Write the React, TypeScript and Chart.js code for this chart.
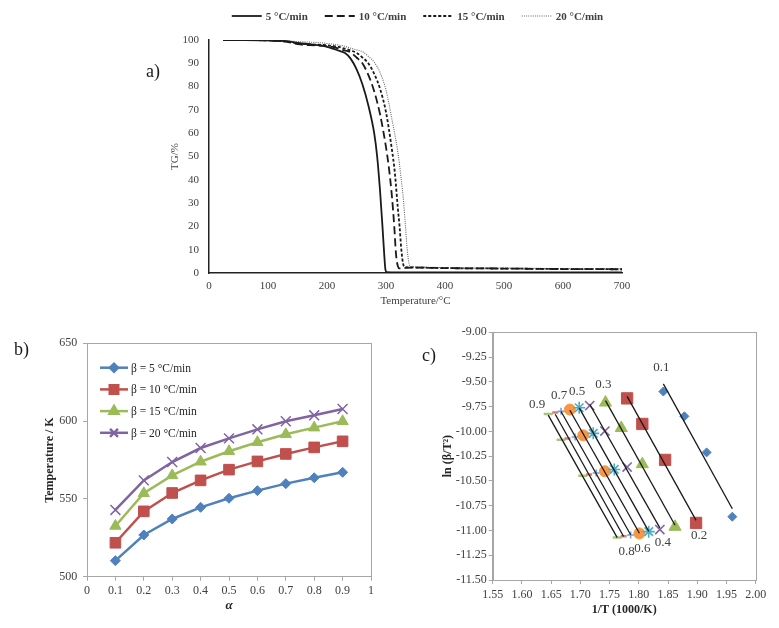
import React, { useEffect, useRef } from 'react';
import { Chart, registerables } from 'chart.js';
import { drawPoint } from 'chart.js/helpers';

Chart.register(...registerables);

const FONT = '"Liberation Serif", "Times New Roman", serif';

// ---- (a) TG curves: temperature (°C) and remaining mass (%) ----
const tempA5 = [24, 60, 100, 130, 150, 170, 190, 200, 210, 220, 230, 240, 250, 260, 270, 280, 285, 290, 294, 297, 299, 301, 320, 400, 500, 600, 700];
const tgA5 = [100, 100, 99.8, 99.5, 98.8, 98.2, 97.6, 97.1, 96.3, 95.4, 94.5, 92, 87.5, 81, 72, 60, 50, 35, 20, 8, 1.5, 0.4, 0.3, 0.3, 0.3, 0.3, 0.3];
const tempA10 = [24, 60, 100, 130, 150, 170, 190, 200, 210, 220, 230, 240, 250, 260, 270, 280, 290, 300, 305, 310, 314, 317, 320, 323, 330, 350, 400, 500, 600, 700];
const tgA10 = [100, 100, 99.8, 99.3, 98.2, 97.8, 97.6, 97.4, 97.0, 96.3, 95.5, 94.7, 92.5, 90, 85, 78, 68, 54, 45, 33, 20, 8, 3, 2, 2.2, 2.3, 2.1, 1.9, 1.7, 1.6];
const tempA15 = [24, 60, 100, 130, 150, 170, 190, 200, 210, 220, 230, 240, 250, 260, 270, 280, 290, 300, 310, 315, 320, 323, 326, 329, 332, 340, 360, 400, 500, 600, 700];
const tgA15 = [100, 100, 99.8, 99.4, 98.6, 98.1, 97.9, 97.7, 97.4, 97.0, 96.3, 95.5, 94.5, 92.5, 90, 85.5, 79, 69, 53, 43, 28, 20, 10, 4, 2.5, 2.4, 2.3, 2.1, 1.9, 1.7, 1.6];
const tempA20 = [24, 60, 100, 130, 150, 170, 190, 200, 210, 220, 230, 240, 250, 260, 270, 280, 290, 300, 310, 320, 325, 330, 333, 336, 339, 342, 350, 400, 500, 600, 700];
const tgA20 = [100, 100, 99.9, 99.7, 99.3, 99.1, 98.8, 98.5, 98.2, 97.8, 97.3, 96.5, 95.8, 95, 93, 90.5, 86, 78.5, 66, 52, 42, 30, 20, 10, 4, 2.8, 2.6, 2.3, 2.1, 1.9, 1.8];
const rateNamesA = ['5 °C/min', '10 °C/min', '15 °C/min', '20 °C/min'];

// ---- (b) temperature (K) at each conversion ----
const alpha = [0.1, 0.2, 0.3, 0.4, 0.5, 0.6, 0.7, 0.8, 0.9];
const tempB5 = [510.3, 526.8, 537.1, 544.6, 550.4, 555.3, 559.8, 563.6, 567.1];
const tempB10 = [521.8, 542.0, 553.8, 561.9, 568.8, 574.1, 578.9, 583.1, 587.0];
const tempB15 = [532.6, 553.6, 565.1, 573.9, 580.6, 586.4, 591.5, 595.8, 599.9];
const tempB20 = [542.9, 561.9, 573.7, 582.7, 588.9, 594.7, 599.9, 603.7, 607.8];
const rateNamesB = ['β = 5 °C/min', 'β = 10 °C/min', 'β = 15 °C/min', 'β = 20 °C/min'];

// ---- (c) 1000/T and ln(β/T²) per conversion (β = 5, 10, 15, 20) ----
const conversionNames = ['0.1', '0.2', '0.3', '0.4', '0.5', '0.6', '0.7', '0.8', '0.9'];
const inverseT = [
  [1.960, 1.916, 1.878, 1.842],
  [1.898, 1.845, 1.806, 1.780],
  [1.862, 1.806, 1.770, 1.743],
  [1.836, 1.780, 1.742, 1.716],
  [1.817, 1.758, 1.722, 1.698],
  [1.801, 1.742, 1.705, 1.682],
  [1.786, 1.727, 1.691, 1.667],
  [1.774, 1.715, 1.678, 1.657],
  [1.763, 1.704, 1.667, 1.645],
];
const lnRate = [
  [-10.861, -10.212, -9.848, -9.598],
  [-10.924, -10.288, -9.925, -9.667],
  [-10.963, -10.331, -9.966, -9.709],
  [-10.991, -10.360, -9.997, -9.740],
  [-11.012, -10.384, -10.020, -9.761],
  [-11.030, -10.403, -10.040, -9.780],
  [-11.046, -10.420, -10.057, -9.798],
  [-11.059, -10.434, -10.071, -9.810],
  [-11.072, -10.447, -10.085, -9.824],
];

const seriesColors = ['#4F81BD', '#C0504D', '#9BBB59', '#8064A2', '#4BACC6', '#F79646', '#7B9FCF', '#D67B7A', '#A8C77A'];
const markerStyles = ['rectRot', 'rect', 'triangle', 'crossRot', 'star', 'circle', 'cross', 'line', 'line'];
const markerRadii = [4.5, 8, 7, 6.5, 6, 5.5, 3.5, 3, 4.5];

const pairs = (xs: number[], ys: number[]) => xs.map((x, i) => ({ x, y: ys[i] }));

// least-squares trend line spanning the data range
function trendEnds(xs: number[], ys: number[]) {
  const n = xs.length;
  const mx = xs.reduce((a, b) => a + b, 0) / n;
  const my = ys.reduce((a, b) => a + b, 0) / n;
  let sxy = 0, sxx = 0;
  xs.forEach((x, i) => { sxy += (x - mx) * (ys[i] - my); sxx += (x - mx) * (x - mx); });
  const k = sxy / sxx;
  const b = my - k * mx;
  const lo = Math.min(...xs), hi = Math.max(...xs);
  return [{ x: lo, y: k * lo + b }, { x: hi, y: k * hi + b }];
}

const framePlugin = {
  id: 'frame',
  beforeDatasetsDraw(chart: any) {
    const { ctx, chartArea: a } = chart;
    ctx.save();
    ctx.strokeStyle = '#A6A6A6';
    ctx.lineWidth = 1;
    ctx.strokeRect(Math.round(a.left) + 0.5, Math.round(a.top) + 0.5, Math.round(a.right - a.left), Math.round(a.bottom - a.top));
    ctx.restore();
  },
};

const tgLegendPlugin = {
  id: 'tgLegend',
  afterDraw(chart: any) {
    const { ctx, chartArea } = chart;
    ctx.save();
    ctx.font = `bold 11px ${FONT}`;
    const lineLen = 30, gapText = 4, gapItem = 17;
    const items = chart.data.datasets.map((ds: any) => ({ ds, w: ctx.measureText(ds.label).width }));
    const total = items.reduce((s: number, it: any) => s + lineLen + gapText + it.w, 0) + gapItem * (items.length - 1);
    let x = (chartArea.left + chartArea.right) / 2 - total / 2 + 2;
    const y = 16;
    items.forEach(({ ds, w }: any) => {
      ctx.beginPath();
      ctx.setLineDash(ds.borderDash || []);
      ctx.lineWidth = ds.borderWidth;
      ctx.strokeStyle = ds.borderColor;
      ctx.moveTo(x, y);
      ctx.lineTo(x + lineLen, y);
      ctx.stroke();
      ctx.setLineDash([]);
      ctx.fillStyle = '#404040';
      ctx.textBaseline = 'middle';
      ctx.textAlign = 'left';
      ctx.fillText(ds.label, x + lineLen + gapText, y + 1);
      x += lineLen + gapText + w + gapItem;
    });
    ctx.restore();
  },
};

const rateLegendPlugin = {
  id: 'rateLegend',
  afterDatasetsDraw(chart: any) {
    const { ctx, chartArea } = chart;
    ctx.save();
    ctx.font = `11.5px ${FONT}`;
    chart.data.datasets.forEach((ds: any, i: number) => {
      const y = chartArea.top + 24.4 + i * 21.7;
      const x0 = chartArea.left + 13;
      const x1 = x0 + 28;
      ctx.beginPath();
      ctx.lineWidth = ds.borderWidth;
      ctx.strokeStyle = ds.borderColor;
      ctx.moveTo(x0, y);
      ctx.lineTo(x1, y);
      ctx.stroke();
      ctx.fillStyle = ds.pointBackgroundColor;
      ctx.strokeStyle = ds.pointBorderColor;
      drawPoint(ctx, { pointStyle: ds.pointStyle, radius: ds.pointRadius * 0.8, rotation: 0, borderWidth: ds.pointBorderWidth }, (x0 + x1) / 2, y);
      ctx.fillStyle = '#262626';
      ctx.textBaseline = 'middle';
      ctx.textAlign = 'left';
      ctx.fillText(ds.label, x1 + 3, y + 1);
    });
    ctx.restore();
  },
};

const conversionLabelPlugin = {
  id: 'conversionLabels',
  afterDatasetsDraw(chart: any) {
    const { ctx, scales } = chart;
    ctx.save();
    ctx.font = `13px ${FONT}`;
    ctx.fillStyle = '#404040';
    ctx.textBaseline = 'middle';
    ctx.textAlign = 'center';
    conversionNames.forEach((name, i) => {
      const ends = chart.data.datasets[i].data;
      if (i % 2 === 0) {
        const px = scales.x.getPixelForValue(ends[0].x);
        const py = scales.y.getPixelForValue(ends[0].y);
        const last = i === conversionNames.length - 1;
        ctx.fillText(name, px + (last ? -11 : -2), py + (last ? -11 : -16));
      } else {
        const px = scales.x.getPixelForValue(ends[1].x);
        const py = scales.y.getPixelForValue(ends[1].y);
        ctx.fillText(name, px + 3, py + 15);
      }
    });
    ctx.restore();
  },
};

const tickFont = (size: number) => ({ family: FONT, size });

export default function App() {
  const refA = useRef<HTMLCanvasElement>(null);
  const refB = useRef<HTMLCanvasElement>(null);
  const refC = useRef<HTMLCanvasElement>(null);

  useEffect(() => {
    const tgSeries = [
      { t: tempA5, w: tgA5, dash: [], width: 1.8, color: '#1a1a1a' },
      { t: tempA10, w: tgA10, dash: [8, 4], width: 1.8, color: '#1a1a1a' },
      { t: tempA15, w: tgA15, dash: [3, 2], width: 1.8, color: '#1a1a1a' },
      { t: tempA20, w: tgA20, dash: [1, 1.2], width: 1.1, color: '#666666' },
    ];

    const chartA = new Chart(refA.current!, {
      type: 'line',
      data: {
        datasets: tgSeries.map((s, i) => ({
          label: rateNamesA[i],
          data: pairs(s.t, s.w),
          borderColor: s.color,
          borderWidth: s.width,
          borderDash: s.dash,
          pointRadius: 0,
          fill: false,
          cubicInterpolationMode: 'monotone' as const,
        })),
      },
      options: {
        animation: false,
        responsive: false,
        layout: { padding: { left: 149, top: 40, right: 157, bottom: 1 } },
        plugins: { legend: { display: false }, tooltip: { enabled: false } },
        scales: {
          x: {
            type: 'linear', min: 0, max: 700,
            ticks: { stepSize: 100, font: tickFont(11), color: '#404040', padding: 7 },
            grid: { display: false, drawTicks: false },
            border: { display: true, color: '#222', width: 1.5 },
            title: { display: true, text: 'Temperature/°C', font: { family: FONT, size: 11 }, color: '#404040', padding: { top: 0, bottom: 3.4 } },
            afterFit: (s: any) => { s.height = 38; },
          },
          y: {
            min: 0, max: 100,
            ticks: { stepSize: 10, font: tickFont(11), color: '#404040', padding: 10 },
            grid: { display: false, drawTicks: false },
            border: { display: true, color: '#222', width: 1.5 },
            title: { display: true, text: 'TG/%', font: { family: FONT, size: 11 }, color: '#404040', padding: { top: 19.4, bottom: 0 } },
            afterFit: (s: any) => { s.width = 60; },
          },
        },
      },
      plugins: [tgLegendPlugin],
    } as any);

    const tempB = [tempB5, tempB10, tempB15, tempB20];
    const bStyles = ['rectRot', 'rect', 'triangle', 'crossRot'];
    const bRadii = [5, 7.5, 6.5, 7];
    const chartB = new Chart(refB.current!, {
      type: 'line',
      data: {
        datasets: tempB.map((vals, i) => ({
          label: rateNamesB[i],
          data: pairs(alpha, vals),
          borderColor: seriesColors[i],
          backgroundColor: seriesColors[i],
          borderWidth: 2.5,
          pointStyle: bStyles[i],
          pointRadius: bRadii[i],
          pointBackgroundColor: seriesColors[i],
          pointBorderColor: seriesColors[i],
          pointBorderWidth: i === 3 ? 1.5 : 1,
          fill: false,
        })),
      },
      options: {
        animation: false,
        responsive: false,
        layout: { padding: { left: 27, top: 25.3, right: 29, bottom: 6.3 } },
        plugins: { legend: { display: false }, tooltip: { enabled: false } },
        scales: {
          x: {
            type: 'linear', min: 0, max: 1,
            ticks: { stepSize: 0.1, font: tickFont(12), color: '#404040', padding: 3, callback: (v: any) => String(Number(Number(v).toFixed(1))) },
            grid: { display: true, drawOnChartArea: false, drawTicks: true, tickLength: 4, color: '#A6A6A6' },
            border: { display: true, color: '#A6A6A6' },
            title: { display: true, text: 'α', font: { family: FONT, size: 13, weight: 'bold', style: 'italic' }, color: '#262626', padding: { top: 0, bottom: 7.8 } },
            afterFit: (s: any) => { s.height = 45; },
          },
          y: {
            min: 500, max: 650,
            ticks: { stepSize: 50, font: tickFont(12), color: '#404040', padding: 5.7 },
            grid: { display: true, drawOnChartArea: false, drawTicks: true, tickLength: 4, color: '#A6A6A6' },
            border: { display: true, color: '#A6A6A6' },
            title: { display: true, text: 'Temperature / K', font: { family: FONT, size: 12, weight: 'bold' }, color: '#262626', padding: { top: 15.8, bottom: 0 } },
            afterFit: (s: any) => { s.width = 60; },
          },
        },
      },
      plugins: [framePlugin, rateLegendPlugin],
    } as any);

    const trendSets = inverseT.map((xs, i) => ({
      label: `trend ${conversionNames[i]}`,
      data: trendEnds(xs, lnRate[i]),
      showLine: true,
      borderColor: '#1a1a1a',
      borderWidth: 1.3,
      pointRadius: 0,
      order: 0,
    }));
    const pointSets = inverseT.map((xs, i) => ({
      label: conversionNames[i],
      data: pairs(xs, lnRate[i]),
      showLine: false,
      pointStyle: markerStyles[i],
      pointRadius: markerRadii[i],
      pointBackgroundColor: seriesColors[i],
      pointBorderColor: seriesColors[i],
      pointBorderWidth: markerStyles[i] === 'line' ? 2.5 : (['crossRot', 'star', 'cross'].includes(markerStyles[i]) ? 1.6 : 1),
      order: 1,
    }));

    const chartC = new Chart(refC.current!, {
      type: 'scatter',
      data: { datasets: [...trendSets, ...pointSets] },
      options: {
        animation: false,
        responsive: false,
        layout: { padding: { left: 32.7, top: 14.3, right: 23.3, bottom: 8 } },
        plugins: { legend: { display: false }, tooltip: { enabled: false } },
        scales: {
          x: {
            type: 'linear', min: 1.55, max: 2.0,
            ticks: { stepSize: 0.05, font: tickFont(12), color: '#404040', padding: 3.4, callback: (v: any) => Number(v).toFixed(2) },
            grid: { display: true, drawOnChartArea: false, drawTicks: true, tickLength: 4, color: '#A6A6A6' },
            border: { display: true, color: '#A6A6A6' },
            title: { display: true, text: '1/T (1000/K)', font: { family: FONT, size: 12, weight: 'bold' }, color: '#262626', padding: { top: 0, bottom: 2.8 } },
            afterFit: (s: any) => { s.height = 40; },
          },
          y: {
            min: -11.5, max: -9.0,
            ticks: { stepSize: 0.25, font: tickFont(12), color: '#404040', padding: 2, callback: (v: any) => Number(v).toFixed(2) },
            grid: { display: true, drawOnChartArea: false, drawTicks: true, tickLength: 4, color: '#A6A6A6' },
            border: { display: true, color: '#A6A6A6' },
            title: { display: true, text: 'ln (β/T²)', font: { family: FONT, size: 12, weight: 'bold' }, color: '#262626', padding: { top: 8.4, bottom: 0 } },
            afterFit: (s: any) => { s.width = 60; },
          },
        },
      },
      plugins: [framePlugin, conversionLabelPlugin],
    } as any);

    return () => {
      chartA.destroy();
      chartB.destroy();
      chartC.destroy();
    };
  }, []);

  const panelLabel = (text: string, left: number, top: number) => (
    <div style={{ position: 'absolute', left, top, fontFamily: FONT, fontSize: 18, lineHeight: '18px', color: '#1a1a1a' }}>{text}</div>
  );

  return (
    <div style={{ position: 'absolute', left: 0, top: 0, width: 779, height: 628, background: '#fff', overflow: 'hidden' }}>
      <canvas ref={refA} width={779} height={312} style={{ position: 'absolute', left: 0, top: 0, width: 779, height: 312 }} />
      <canvas ref={refB} width={400} height={310} style={{ position: 'absolute', left: 0, top: 318, width: 400, height: 310 }} />
      <canvas ref={refC} width={379} height={310} style={{ position: 'absolute', left: 400, top: 318, width: 379, height: 310 }} />
      {panelLabel('a)', 146, 62)}
      {panelLabel('b)', 14, 340)}
      {panelLabel('c)', 422, 346)}
    </div>
  );
}
